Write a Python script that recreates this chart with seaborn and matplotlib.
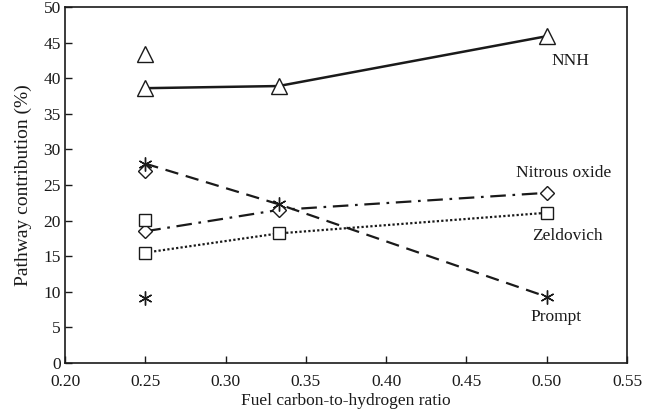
import matplotlib

matplotlib.use("Agg")

import matplotlib.pyplot as plt
import seaborn as sns

# fuel C/H ratio for the connected points
ratio = [0.25, 0.333, 0.50]
nnh = [38.6, 38.9, 45.9]
nitrous_oxide = [18.5, 21.5, 23.9]
zeldovich = [15.5, 18.2, 21.1]
prompt = [28.0, 22.3, 9.3]

# single extra points at the methane ratio
extra_ratio = [0.25]
nnh_extra = [43.4]
nitrous_oxide_extra = [27.0]
zeldovich_extra = [20.1]
prompt_extra = [9.1]

x_ticks = [0.20, 0.25, 0.30, 0.35, 0.40, 0.45, 0.50, 0.55]
y_ticks = [0, 5, 10, 15, 20, 25, 30, 35, 40, 45, 50]

sns.set_style("ticks")
plt.rcParams["font.family"] = ["Liberation Serif", "DejaVu Serif"]

fig = plt.figure(figsize=(6.47, 4.15), dpi=100)
ax = fig.add_axes([0.1005, 0.1253, 0.8686, 0.8578])

ink = "#1a1a1a"
asterisk = (6, 2, 0)

series = [
    ("NNH", nnh, nnh_extra, "^", (0, ()), 11, 1.8),
    ("Nitrous oxide", nitrous_oxide, nitrous_oxide_extra, "D", (0, (7, 3, 1.2, 3)), 7.5, 1.6),
    ("Zeldovich", zeldovich, zeldovich_extra, "s", (0, (1, 1)), 8.5, 1.6),
    ("Prompt", prompt, prompt_extra, asterisk, (0, (6, 3.5)), 10, 1.6),
]

for name, vals, extra, mk, ls, ms, lw in series:
    sns.lineplot(
        x=ratio,
        y=vals,
        ax=ax,
        color=ink,
        linestyle=ls,
        linewidth=lw,
        marker=mk,
        markersize=ms,
        markerfacecolor="white",
        markeredgecolor=ink,
        markeredgewidth=1.0,
    )
    sns.lineplot(
        x=extra_ratio,
        y=extra,
        ax=ax,
        color=ink,
        linestyle="none",
        marker=mk,
        markersize=ms,
        markerfacecolor="white",
        markeredgecolor=ink,
        markeredgewidth=1.0,
    )

# curve labels
lab = dict(ha="center", va="center", fontsize=12.5, color=ink)
ax.text(0.5146, 42.4, "NNH", **lab)
ax.text(0.5106, 26.7, "Nitrous oxide", **lab)
ax.text(0.5126, 17.8, "Zeldovich", **lab)
ax.text(0.506, 6.4, "Prompt", **lab)

ax.set_xlim(0.20, 0.55)
ax.set_ylim(0, 50)
ax.set_xticks(x_ticks)
ax.set_xticklabels([f"{t:.2f}" for t in x_ticks])
ax.set_yticks(y_ticks)
ax.tick_params(direction="in", length=5, width=1, labelsize=12.5, colors=ink, top=False, right=False)
ax.tick_params(axis="x", pad=8)
ax.tick_params(axis="y", pad=3)
for s in ax.spines.values():
    s.set_linewidth(1.2)
    s.set_color(ink)
    s.set_visible(True)

ax.set_xlabel("Fuel carbon-to-hydrogen ratio", fontsize=12.5, color=ink, labelpad=2)
ax.set_ylabel("Pathway contribution (%)", fontsize=14, color=ink, labelpad=8)

fig.savefig("out.png", dpi=100)
